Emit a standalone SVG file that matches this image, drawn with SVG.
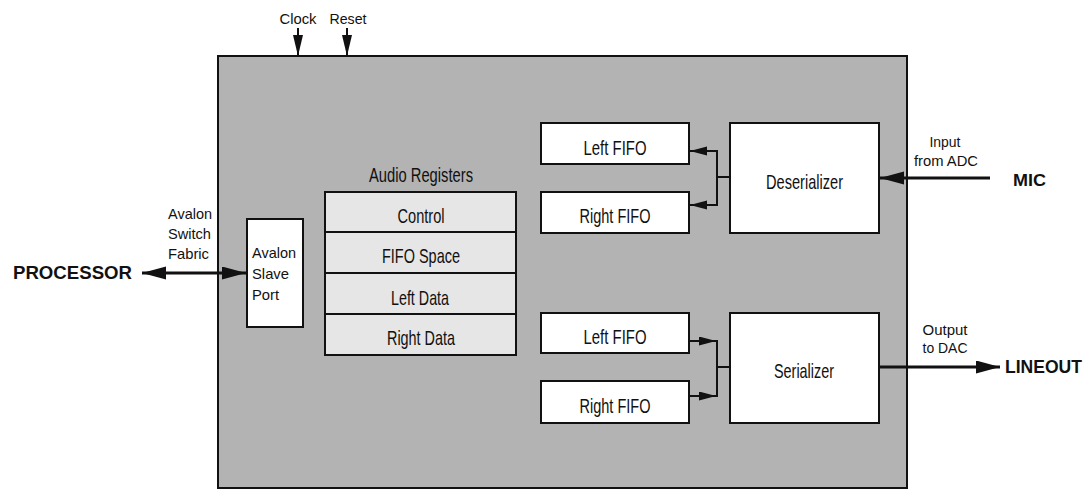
<svg xmlns="http://www.w3.org/2000/svg" width="1088" height="492" viewBox="0 0 1088 492">
<style>
text{font-family:"Liberation Sans",Arial,sans-serif;fill:#111;}
.t{font-size:15px;}
.m{font-size:21px;text-anchor:middle;}
.b{font-weight:bold;}
.box{fill:#fff;stroke:#111;stroke-width:2;}
.reg{fill:#e6e6e6;stroke:#111;stroke-width:2;}
.ln{stroke:#111;stroke-width:2;fill:none;}
.th{stroke:#111;stroke-width:3;fill:none;}
</style>
<defs>
<marker id="aS" markerUnits="userSpaceOnUse" markerWidth="18" markerHeight="10" refX="17" refY="4.5" orient="auto"><path d="M0,0 L17,4.5 L0,9 z" fill="#111"/></marker>
<marker id="aM" markerUnits="userSpaceOnUse" markerWidth="22" markerHeight="12" refX="21" refY="5" orient="auto"><path d="M0,0 L21,5 L0,10 z" fill="#111"/></marker>
<marker id="aL" markerUnits="userSpaceOnUse" markerWidth="26" markerHeight="14" refX="24" refY="6.5" orient="auto-start-reverse"><path d="M0,0 L24,6.5 L0,13 z" fill="#111"/></marker>
</defs>
<rect width="1088" height="492" fill="#fff"/>
<g id="main-block">
<rect x="218" y="56" width="689" height="432" fill="#b3b3b3" stroke="#111" stroke-width="2"/>
</g>
<g id="labels">
<text class="t" x="298" y="24" font-size="16" text-anchor="middle" textLength="37" lengthAdjust="spacingAndGlyphs">Clock</text>
<text class="t" x="348" y="24" font-size="16" text-anchor="middle" textLength="37" lengthAdjust="spacingAndGlyphs">Reset</text>
<text class="t" x="168" y="219" font-size="16" textLength="44" lengthAdjust="spacingAndGlyphs">Avalon</text>
<text class="t" x="168" y="239" font-size="16" textLength="43" lengthAdjust="spacingAndGlyphs">Switch</text>
<text class="t" x="168" y="259" font-size="16" textLength="41" lengthAdjust="spacingAndGlyphs">Fabric</text>
<text class="b" x="13" y="279" font-size="18" textLength="119" lengthAdjust="spacingAndGlyphs">PROCESSOR</text>
<text class="t" x="945" y="147" font-size="16" text-anchor="middle" textLength="31" lengthAdjust="spacingAndGlyphs">Input</text>
<text class="t" x="946" y="166" font-size="16" text-anchor="middle" textLength="64" lengthAdjust="spacingAndGlyphs">from ADC</text>
<text class="b" x="1013" y="186" font-size="17" textLength="33" lengthAdjust="spacingAndGlyphs">MIC</text>
<text class="t" x="945" y="335" font-size="16" text-anchor="middle" textLength="45" lengthAdjust="spacingAndGlyphs">Output</text>
<text class="t" x="945" y="353" font-size="16" text-anchor="middle" textLength="45" lengthAdjust="spacingAndGlyphs">to DAC</text>
<text class="b" x="1005" y="373" font-size="18" textLength="77" lengthAdjust="spacingAndGlyphs">LINEOUT</text>
</g>
<g id="avalon-slave-port">
<rect class="box" x="247" y="219" width="56" height="108"/>
<text class="t" x="252" y="258" font-size="16" textLength="44" lengthAdjust="spacingAndGlyphs">Avalon</text>
<text class="t" x="252" y="279" font-size="16" textLength="37" lengthAdjust="spacingAndGlyphs">Slave</text>
<text class="t" x="252" y="300" font-size="16" textLength="27" lengthAdjust="spacingAndGlyphs">Port</text>
</g>
<g id="audio-registers">
<text class="m" x="421" y="182" font-size="19" textLength="104" lengthAdjust="spacingAndGlyphs">Audio Registers</text>
<rect class="reg" x="325" y="192" width="191" height="163"/>
<line class="ln" x1="325" y1="232" x2="516" y2="232"/>
<line class="ln" x1="325" y1="273" x2="516" y2="273"/>
<line class="ln" x1="325" y1="314" x2="516" y2="314"/>
<text class="m" x="421" y="223" textLength="47" lengthAdjust="spacingAndGlyphs">Control</text>
<text class="m" x="421" y="263" textLength="78" lengthAdjust="spacingAndGlyphs">FIFO Space</text>
<text class="m" x="420" y="305" textLength="58" lengthAdjust="spacingAndGlyphs">Left Data</text>
<text class="m" x="421" y="345" textLength="68" lengthAdjust="spacingAndGlyphs">Right Data</text>
</g>
<g id="in-left-fifo">
<rect class="box" x="541" y="123" width="148" height="41"/>
<text class="m" x="615" y="155" textLength="63" lengthAdjust="spacingAndGlyphs">Left FIFO</text>
</g>
<g id="in-right-fifo">
<rect class="box" x="541" y="192" width="148" height="41"/>
<text class="m" x="615" y="223" textLength="71" lengthAdjust="spacingAndGlyphs">Right FIFO</text>
</g>
<g id="deserializer">
<rect class="box" x="730" y="123" width="149" height="110"/>
<text class="m" x="804.5" y="189" textLength="77" lengthAdjust="spacingAndGlyphs">Deserializer</text>
</g>
<g id="out-left-fifo">
<rect class="box" x="541" y="313" width="148" height="40"/>
<text class="m" x="615" y="344" textLength="63" lengthAdjust="spacingAndGlyphs">Left FIFO</text>
</g>
<g id="out-right-fifo">
<rect class="box" x="541" y="381" width="148" height="42"/>
<text class="m" x="615" y="413" textLength="71" lengthAdjust="spacingAndGlyphs">Right FIFO</text>
</g>
<g id="serializer">
<rect class="box" x="730" y="313" width="149" height="110"/>
<text class="m" x="804" y="378" textLength="60" lengthAdjust="spacingAndGlyphs">Serializer</text>
</g>
<g id="connectors">
<line class="ln" x1="298" y1="28" x2="298" y2="56" marker-end="url(#aM)"/>
<line class="ln" x1="347" y1="28" x2="347" y2="56" marker-end="url(#aM)"/>
<line class="th" x1="142" y1="273" x2="246" y2="273" marker-start="url(#aL)" marker-end="url(#aL)"/>
<line class="th" x1="990" y1="178" x2="880" y2="178" marker-end="url(#aL)"/>
<line class="th" x1="879" y1="367" x2="1000" y2="367" marker-end="url(#aL)"/>
<path class="ln" d="M730,177 H717 M717,150 V206"/>
<line class="ln" x1="717" y1="151" x2="690" y2="151" marker-end="url(#aS)"/>
<line class="ln" x1="717" y1="205" x2="690" y2="205" marker-end="url(#aS)"/>
<path class="ln" d="M717,340 V397 M717,367 H730"/>
<line class="ln" x1="689" y1="341" x2="716" y2="341" marker-end="url(#aS)"/>
<line class="ln" x1="689" y1="396" x2="716" y2="396" marker-end="url(#aS)"/>
</g>
</svg>
